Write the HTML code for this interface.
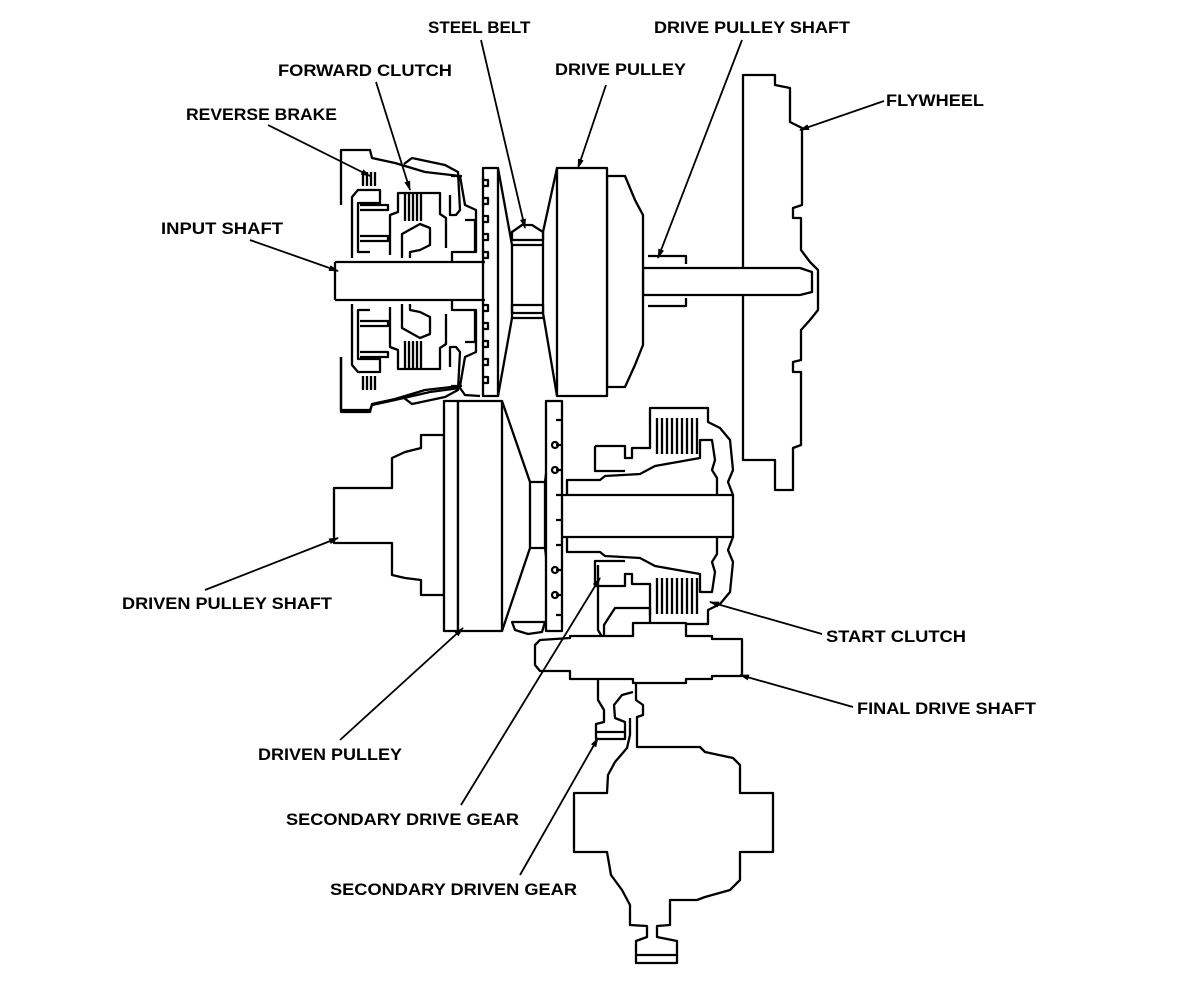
<!DOCTYPE html>
<html><head><meta charset="utf-8"><style>
html,body{margin:0;padding:0;background:#fff;}
svg{display:block;}
text{font-family:"Liberation Sans",Arial,sans-serif;font-weight:bold;font-size:17px;fill:#000;}
</style></head><body>
<svg width="1184" height="984" viewBox="0 0 1184 984" xmlns="http://www.w3.org/2000/svg">
<defs>
<marker id="ah" markerWidth="10" markerHeight="8" refX="9" refY="4" orient="auto" markerUnits="userSpaceOnUse">
<path d="M0,1 L10,4 L0,7 Z" fill="#000"/>
</marker>
</defs>
<g fill="none" stroke="#000" stroke-width="2.3" stroke-linejoin="round">
<path d="M743,75 L775,75 L775,85 L790,88 L790,122 L802,128 L802,205 L793,208 L793,218 L801,218 L801,250 L810,262 L818,270 L818,310 L810,320 L801,330 L801,360 L793,362 L793,372 L801,372 L801,445 L793,448 L793,490 L775,490 L775,460 L743,460 Z" fill="#fff"/>
<path d="M643,268 L800,268 L812,272 L812,292 L800,295 L643,295 Z" fill="#fff"/>
<path d="M648,256 L686,256 L686,264 M648,306 L686,306 L686,298"/>
<path d="M607,176 L625,176 L635,200 L643,215 L643,345 L635,365 L625,387 L607,387 Z" fill="#fff"/>
<rect x="557" y="168" width="50" height="228" fill="#fff"/>
<path d="M557,168 L543,232 L543,313 L557,396"/>
<path d="M512,232 L522,225 L532,225 L543,232 L543,240 L512,240 Z M512,313 L543,313 L543,305 L512,305 Z" fill="#fff"/>
<path d="M498,168 L512,245 L512,318 L498,396"/>
<path d="M512,245 L543,245 M512,318 L543,318"/>
<rect x="483" y="168" width="15" height="228" fill="#fff"/>
<path d="M483,180 h5 v6 h-5 M483,198 h5 v6 h-5 M483,216 h5 v6 h-5 M483,234 h5 v6 h-5 M483,252 h5 v6 h-5 M483,305 h5 v6 h-5 M483,323 h5 v6 h-5 M483,341 h5 v6 h-5 M483,359 h5 v6 h-5 M483,377 h5 v6 h-5"/>
<path d="M335,262 L485,262 M335,300 L485,300 M335,262 L335,300"/>
<g id="cl">
<path d="M341,205 L341,150 L370,150 L372,158 L395,163 L425,172 L460,176 L465,205 L476,210 L476,252 L452,252 L452,262 M451,176 L462,176"/>
<path d="M352,258 L352,197 L358,190 L380,190 L380,203 L358,203 L358,252 L370,252"/>
<path d="M360,205 L388,205 L388,210 L360,210 M360,236 L388,236 L388,241 L360,241"/>
<path d="M390,255 L390,215 L398,212 L398,193 L440,193 L440,214 L446,218 L446,248"/>
<path d="M402,258 L402,234 L420,224 L430,228 L430,245 L420,250 L410,252 L410,258"/>
<path d="M404,164 L412,158 L445,165 L458,172 L460,210 L456,215 L450,215 L450,195"/>
<path d="M363,172 v14 M367,172 v14 M371,172 v14 M375,172 v14"/>
<path d="M405,193 v28 M409,193 v28 M413,193 v28 M417,193 v28 M421,193 v28"/>
<path d="M465,220 L475,220 L475,253"/>
</g>
<use href="#cl" transform="translate(0,562) scale(1,-1)"/>
<path d="M341,357 L341,410 L370,410 L372,405 L395,400 L430,392 L460,388 L465,395 L480,396"/>
<path d="M334,488 L392,488 L392,458 L405,452 L421,448 L421,435 L444,435 L444,595 L421,595 L421,580 L405,578 L392,575 L392,543 L334,543 Z" fill="#fff"/>
<rect x="444" y="401" width="14" height="230" fill="#fff"/>
<rect x="458" y="401" width="44" height="230" fill="#fff"/>
<path d="M502,401 L530,482 L530,548 L502,631"/>
<path d="M530,482 L545,482 L545,548 L530,548"/>
<path d="M545,482 L555,401 M545,548 L555,631"/>
<path d="M512,622 L545,622 L542,632 L528,634 L515,630 Z" fill="#fff"/>
<rect x="546" y="401" width="16" height="230" fill="#fff"/>
<path d="M556,420 h6 M556,445 h6 M556,470 h6 M556,495 h6 M556,520 h6 M556,545 h6 M556,570 h6 M556,595 h6 M556,615 h6"/>
<circle cx="555" cy="445" r="3"/><circle cx="555" cy="470" r="3"/><circle cx="555" cy="570" r="3"/><circle cx="555" cy="595" r="3"/>
<path d="M562,495 L733,495 L733,537 L562,537"/>
<g id="sc">
<path d="M567,495 L567,480 L600,480 L605,476 L640,474 L655,466 L700,458 L700,440 L712,440 L715,460 L712,470 L717,478 L717,495"/>
<path d="M650,418 L650,408 L708,408 L708,422 L720,428 L730,440 L733,470 L728,482 L733,495"/>
<path d="M595,446 L625,446 L625,458 L632,458 L632,448 L650,448 L650,418"/>
<path d="M595,446 L595,471 L625,471"/>
<path d="M657,418 v36 M662,418 v36 M667,418 v36 M672,418 v36 M677,418 v36 M682,418 v36 M687,418 v36 M692,418 v36 M697,418 v36"/>
</g>
<use href="#sc" transform="translate(0,1032) scale(1,-1)"/>
<path d="M598,565 L598,630 L604,640 L604,625 L615,608 L650,608 L650,615"/>
<path d="M535,645 L540,640 L570,638 L570,636 L633,636 L633,623 L686,623 L686,636 L712,636 L712,639 L742,639 L742,676 L712,676 L712,679 L686,679 L686,683 L633,683 L633,679 L570,679 L570,671 L540,671 L535,665 Z" fill="#fff"/>
<path d="M598,679 L598,700 L604,710 L604,722 L596,724 L596,739 L625,739 L625,722 L615,718 L614,705 L622,695 L633,692"/>
<path d="M596,732 L625,732"/>
<path d="M636,683 L636,700 L643,705 L643,715 L637,717 L637,747 L700,747 L705,752 L733,758 L740,765 L740,793 L773,793 L773,852 L740,852 L740,880 L730,890 L705,897 L697,900 L670,900 L670,925 L657,926 L657,937 L677,941 L677,963 L636,963 L636,941 L647,937 L647,926 L630,925 L630,905 L622,890 L611,875 L607,852 L574,852 L574,793 L607,793 L608,775 L615,762 L627,748 L630,735 L630,718"/>
<path d="M636,955 L677,955"/>
</g>
<g stroke="#000" stroke-width="1.8" fill="none" marker-end="url(#ah)">
<line x1="481" y1="40" x2="525" y2="228"/>
<line x1="742" y1="40" x2="658" y2="258"/>
<line x1="376" y1="82" x2="410" y2="190"/>
<line x1="606" y1="85" x2="578" y2="168"/>
<line x1="884" y1="101" x2="800" y2="130"/>
<line x1="268" y1="125" x2="370" y2="176"/>
<line x1="250" y1="240" x2="338" y2="271"/>
<line x1="205" y1="590" x2="338" y2="538"/>
<line x1="822" y1="634" x2="710" y2="602"/>
<line x1="853" y1="707" x2="740" y2="675"/>
<line x1="340" y1="740" x2="463" y2="628"/>
<line x1="461" y1="805" x2="600" y2="578"/>
<line x1="520" y1="875" x2="598" y2="738"/>
</g>
<text x="428" y="33">STEEL BELT</text>
<text x="654" y="33" textLength="196" lengthAdjust="spacingAndGlyphs">DRIVE PULLEY SHAFT</text>
<text x="278" y="76" textLength="174" lengthAdjust="spacingAndGlyphs">FORWARD CLUTCH</text>
<text x="555" y="75" textLength="131" lengthAdjust="spacingAndGlyphs">DRIVE PULLEY</text>
<text x="886" y="106" textLength="98" lengthAdjust="spacingAndGlyphs">FLYWHEEL</text>
<text x="186" y="120" textLength="151" lengthAdjust="spacingAndGlyphs">REVERSE BRAKE</text>
<text x="161" y="234" textLength="122" lengthAdjust="spacingAndGlyphs">INPUT SHAFT</text>
<text x="122" y="609" textLength="210" lengthAdjust="spacingAndGlyphs">DRIVEN PULLEY SHAFT</text>
<text x="826" y="642" textLength="140" lengthAdjust="spacingAndGlyphs">START CLUTCH</text>
<text x="857" y="714" textLength="179" lengthAdjust="spacingAndGlyphs">FINAL DRIVE SHAFT</text>
<text x="258" y="760" textLength="144" lengthAdjust="spacingAndGlyphs">DRIVEN PULLEY</text>
<text x="286" y="825" textLength="233" lengthAdjust="spacingAndGlyphs">SECONDARY DRIVE GEAR</text>
<text x="330" y="895" textLength="247" lengthAdjust="spacingAndGlyphs">SECONDARY DRIVEN GEAR</text>
</svg>
</body></html>
